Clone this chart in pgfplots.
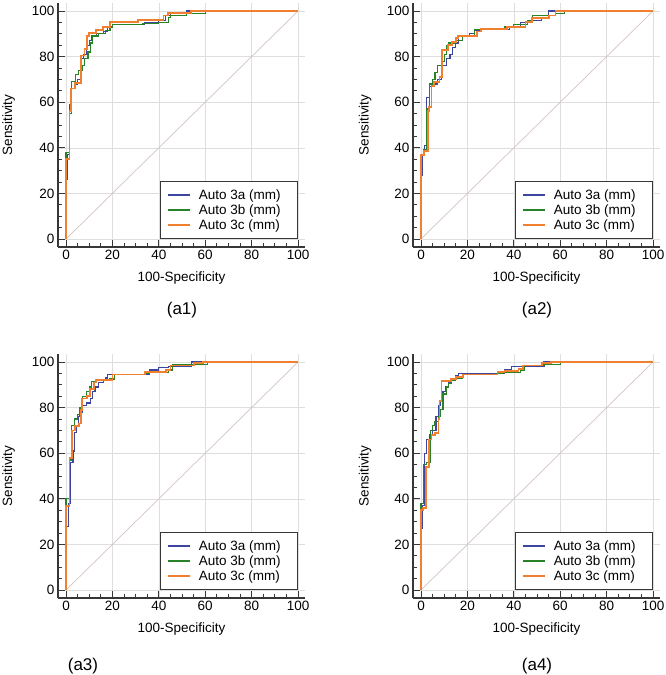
\documentclass[border=0pt]{standalone}
\usepackage{fontspec}
\setmainfont{Liberation Sans}
\usepackage{pgfplots}
\pgfplotsset{compat=1.18}
\definecolor{blueC}{RGB}{60,70,160}
\definecolor{greenC}{RGB}{40,130,40}
\definecolor{orangeC}{RGB}{240,128,48}
\definecolor{axisgray}{RGB}{55,55,55}
\definecolor{gridgray}{RGB}{222,222,222}
\definecolor{diagC}{RGB}{212,194,194}
\newcommand{\lf}{\fontsize{13.5}{16}\selectfont}
\pgfplotsset{
  rocaxis/.style={
    scale only axis, width=247pt, height=244pt,
    xmin=-3.45, xmax=103, ymin=-3.5, ymax=103.5,
    axis lines=left,
    axis line style={-, draw=axisgray, line width=1.5pt},
    xtick={0,20,...,100}, ytick={0,20,...,100},
    minor xtick={5,10,15,25,30,35,45,50,55,65,70,75,85,90,95},
    minor ytick={5,10,15,25,30,35,45,50,55,65,70,75,85,90,95},
    tick align=inside, major tick length=7pt, minor tick length=4pt,
    tick style={draw=axisgray, line width=0.8pt},
    grid=major, major grid style={draw=gridgray, line width=0.6pt},
    minor grid style={draw=none},
    ticklabel style={font=\lf},
    /pgf/number format/assume math mode=true,
    xlabel={100-Specificity}, ylabel={Sensitivity},
    label style={font=\lf},
    xlabel style={at={(axis description cs:0.5,-0.126)}, anchor=center},
    ylabel style={at={(axis description cs:-0.2,0.5)}, anchor=center},
    legend style={at={(0.9718,0.0327)}, anchor=south east,
      draw=axisgray, line width=0.8pt, fill=white,
      font=\lf,
      inner xsep=6pt, inner ysep=5.5pt, row sep=0pt, column sep=6pt,
      nodes={inner sep=2pt}},
    legend cell align=left,
    legend image code/.code={\draw[#1, line width=2pt] (0pt,0pt) -- (22pt,0pt);},
  },
  bl/.style={blueC, line width=1.2pt},
  gr/.style={greenC, line width=1.2pt},
  or/.style={orangeC, line width=1.8pt},
}
\newcommand{\LA}{\addlegendentry{Auto 3a (mm)\hbox to 9pt{}}}
\newcommand{\LB}{\addlegendentry{Auto 3b (mm)\hbox to 9pt{}}}
\newcommand{\LC}{\addlegendentry{Auto 3c (mm)\hbox to 9pt{}}}
\begin{document}
\begin{tikzpicture}
\path[use as bounding box] (0,0) rectangle (666pt,-675pt);

% ---------------- a1
\begin{axis}[rocaxis, at={(58pt,-247pt)}, anchor=south west]
\addplot[diagC, line width=0.7pt, forget plot] coordinates {(0,0) (100,100)};
\addplot[bl] coordinates {(0,0) (0,26) (0.8,26) (0.8,37) (1.5,37) (1.5,59) (2.5,59) (2.5,66) (3.5,66) (3.5,68) (5,68) (5,70) (6.5,70) (6.5,79) (7.5,79) (7.5,81) (9,81) (9,85) (10,85) (10,87) (11,87) (11,89) (13,89) (13,90) (16,90) (16,91) (18,91) (18,93) (20,93) (20,94) (34,94) (34,95) (40,95) (40,96) (43,96) (43,98) (45,98) (45,99) (52,99) (52,100) (100,100)};
\LA
\addplot[gr] coordinates {(0,0) (0,38) (1.5,38) (1.5,55) (2.5,55) (2.5,69) (4,69) (4,72) (5.5,72) (5.5,74) (7,74) (7,76) (8,76) (8,79) (9.5,79) (9.5,82) (10.5,82) (10.5,86) (11.5,86) (11.5,89) (14,89) (14,90) (17,90) (17,91.5) (19,91.5) (19,93) (20,93) (20,94) (33,94) (33,94.5) (40,94.5) (40,95) (44,95) (44,97) (45,97) (45,98) (52,98) (52,99) (60,99) (60,100) (100,100)};
\LB
\addplot[or] coordinates {(0,0) (0,35) (1.5,35) (1.5,56) (2.3,56) (2.3,66) (3.8,66) (3.8,68.5) (6.3,68.5) (6.3,80.5) (8,80.5) (8,83.5) (9,83.5) (9,89) (10,89) (10,90.5) (13,90.5) (13,91.5) (16,91.5) (16,93) (19,93) (19,95) (31,95) (31,96) (42,96) (42,98) (44,98) (44,99) (54,99) (54,100) (100,100)};
\LC
\end{axis}

% ---------------- a2
\begin{axis}[rocaxis, at={(413pt,-247pt)}, anchor=south west,
  ylabel style={at={(axis description cs:-0.194,0.5)}}]
\addplot[diagC, line width=0.7pt, forget plot] coordinates {(0,0) (100,100)};
\addplot[bl] coordinates {(0,0) (0,28) (0.8,28) (0.8,37) (1.5,37) (1.5,41) (2.5,41) (2.5,62) (3.5,62) (3.5,67) (5,67) (5,68) (7,68) (7,70) (9,70) (9,76) (11,76) (11,79) (12.5,79) (12.5,81) (13.5,81) (13.5,84) (15,84) (15,86) (16,86) (16,89) (21,89) (21,90) (23,90) (23,91.5) (26,91.5) (26,92) (38,92) (38,93) (43,93) (43,95) (47,95) (47,96) (52,96) (52,97) (55,97) (55,100) (100,100)};
\LA
\addplot[gr] coordinates {(0,0) (0,37) (1,37) (1,39) (2.5,39) (2.5,57) (3.5,57) (3.5,68) (5,68) (5,70) (6,70) (6,73) (7,73) (7,76) (9,76) (9,78) (10,78) (10,81) (11,81) (11,85) (12,85) (12,86) (15,86) (15,87) (18,87) (18,89) (23,89) (23,92) (36,92) (36,93) (40,93) (40,94) (46,94) (46,96) (48,96) (48,98) (58,98) (58,99) (62,99) (62,100) (100,100)};
\LB
\addplot[or] coordinates {(0,0) (0,37) (1.3,37) (1.3,38.5) (3,38.5) (3,56) (3.5,56) (3.5,58) (4.5,58) (4.5,67) (5.5,67) (5.5,69) (8,69) (8,71) (9.2,71) (9.2,83) (11.5,83) (11.5,85) (13.5,85) (13.5,86.5) (15,86.5) (15,88) (16,88) (16,89) (24,89) (24,91) (26,91) (26,92) (37,92) (37,93) (45,93) (45,95) (48,95) (48,97) (55,97) (55,98) (58,98) (58,100) (100,100)};
\LC
\end{axis}

% ---------------- a3
\begin{axis}[rocaxis, at={(58pt,-598pt)}, anchor=south west]
\addplot[diagC, line width=0.7pt, forget plot] coordinates {(0,0) (100,100)};
\addplot[bl] coordinates {(0,0) (0,28) (1,28) (1,38) (2,38) (2,56) (3,56) (3,61) (3.8,61) (3.8,69) (4.5,69) (4.5,72) (5.5,72) (5.5,76) (6,76) (6,78) (7,78) (7,81) (9,81) (9,82) (10.5,82) (10.5,84) (11.5,84) (11.5,87) (12.5,87) (12.5,89) (14,89) (14,91) (16,91) (16,92) (17,92) (17,93) (18,93) (18,94.5) (36,94.5) (36,96.5) (40,96.5) (40,97.5) (44,97.5) (44,98) (54,98) (54,100) (100,100)};
\LA
\addplot[gr] coordinates {(0,0) (0,40) (1.5,40) (1.5,57) (2.5,57) (2.5,72) (3.5,72) (3.5,75) (5,75) (5,77) (6,77) (6,80) (7,80) (7,85) (9,85) (9,87) (10,87) (10,89) (11,89) (11,91.5) (13,91.5) (13,92) (19,92) (19,92.5) (21,92.5) (21,94.5) (34,94.5) (34,95) (36,95) (36,95.5) (44,95.5) (44,96.5) (46,96.5) (46,99) (61,99) (61,100) (100,100)};
\LB
\addplot[or] coordinates {(0,0) (0,37) (1.5,37) (1.5,58) (2.7,58) (2.7,70) (3.8,70) (3.8,72) (5.5,72) (5.5,73) (6.5,73) (6.5,79) (7,79) (7,84) (9,84) (9,85) (10.5,85) (10.5,88) (12,88) (12,91) (13,91) (13,92) (20,92) (20,94.5) (34,94.5) (34,95.5) (43,95.5) (43,96.5) (45,96.5) (45,98.5) (55,98.5) (55,99.5) (59,99.5) (59,100) (100,100)};
\LC
\end{axis}

% ---------------- a4
\begin{axis}[rocaxis, at={(413pt,-598pt)}, anchor=south west,
  ylabel style={at={(axis description cs:-0.194,0.5)}}]
\addplot[diagC, line width=0.7pt, forget plot] coordinates {(0,0) (100,100)};
\addplot[bl] coordinates {(0,0) (0,27) (0.8,27) (0.8,37) (1.5,37) (1.5,60) (2.5,60) (2.5,66) (3.5,66) (3.5,68) (5,68) (5,70) (6.5,70) (6.5,76) (7.5,76) (7.5,81) (8.5,81) (8.5,83) (9.5,83) (9.5,87) (10.5,87) (10.5,89) (12,89) (12,91) (13,91) (13,92.5) (15,92.5) (15,94) (16,94) (16,95) (36,95) (36,96.5) (39,96.5) (39,98) (53,98) (53,100) (100,100)};
\LA
\addplot[gr] coordinates {(0,0) (0,38) (1.2,38) (1.2,55) (2.5,55) (2.5,56) (4,56) (4,70) (5,70) (5,72) (6,72) (6,74) (7.5,74) (7.5,76) (8.5,76) (8.5,79) (9.5,79) (9.5,86) (11,86) (11,89) (12,89) (12,90.5) (13,90.5) (13,92) (15,92) (15,93) (18,93) (18,94.5) (32,94.5) (32,95) (35,95) (35,95.5) (43,95.5) (43,96.5) (44.5,96.5) (44.5,98.5) (53,98.5) (53,99) (60,99) (60,100) (100,100)};
\LB
\addplot[or] coordinates {(0,0) (0,35) (1,35) (1,36) (2,36) (2,54) (3.5,54) (3.5,66) (4.5,66) (4.5,68) (6,68) (6,69) (7.5,69) (7.5,75) (8,75) (8,83) (8.8,83) (8.8,91.5) (13,91.5) (13,92.5) (15,92.5) (15,93.5) (18,93.5) (18,94.5) (33,94.5) (33,95.5) (36,95.5) (36,96) (42,96) (42,97) (44,97) (44,98.5) (52,98.5) (52,99.5) (56,99.5) (56,100) (100,100)};
\LC
\end{axis}

\node[font=\fontsize{17}{20}\selectfont] at (182pt,-310pt) {(a1)};
\node[font=\fontsize{17}{20}\selectfont] at (537pt,-310pt) {(a2)};
\node[font=\fontsize{17}{20}\selectfont] at (83pt,-666pt) {(a3)};
\node[font=\fontsize{17}{20}\selectfont] at (537pt,-666pt) {(a4)};
\end{tikzpicture}
\end{document}
